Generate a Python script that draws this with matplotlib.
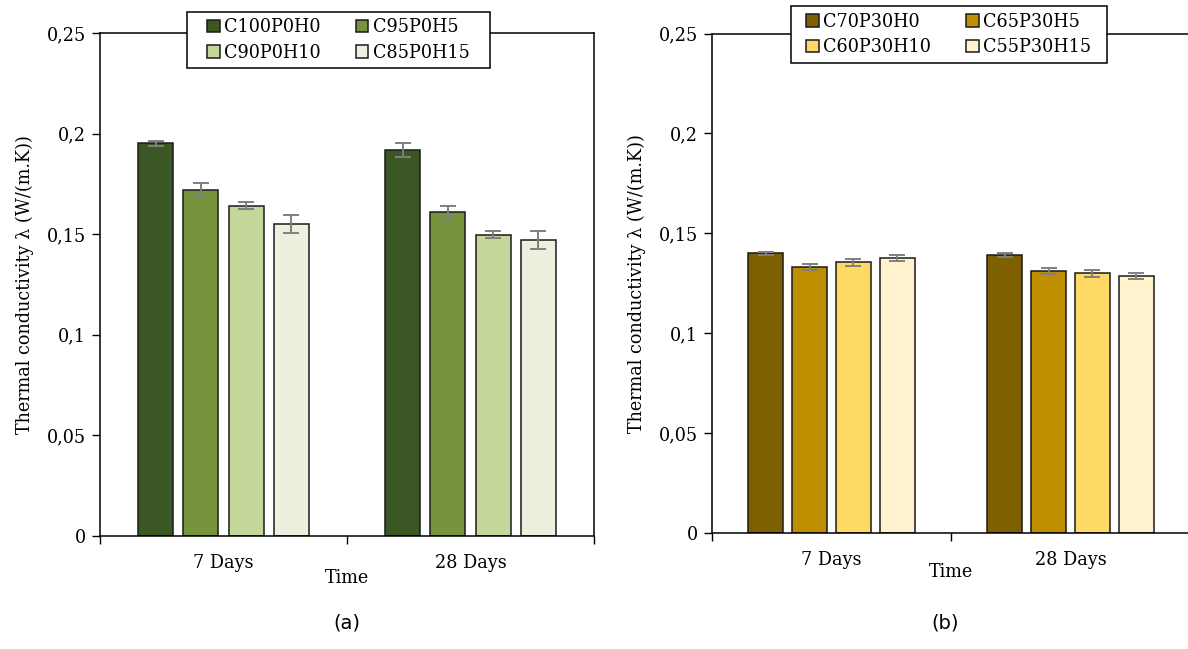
import matplotlib
matplotlib.use("Agg")
import matplotlib.pyplot as plt
from matplotlib.patches import Rectangle
import numpy as np

plt.rcParams['font.family'] = ['DejaVu Serif']

times = ["7 Days", "28 Days"]
y_ticks = [0, 0.05, 0.1, 0.15, 0.2, 0.25]
y_tick_labels = ["0", "0,05", "0,1", "0,15", "0,2", "0,25"]

labels_a = ["C100P0H0", "C95P0H5", "C90P0H10", "C85P0H15"]
values_a = [[0.1952, 0.1920], [0.1720, 0.1609], [0.1642, 0.1497], [0.1551, 0.1472]]
errors_a = [[0.0012, 0.0035], [0.0035, 0.0032], [0.0019, 0.0018], [0.0046, 0.0045]]
colors_a = ["#3A5724", "#77933C", "#C4D79B", "#EBF1DE"]

labels_b = ["C70P30H0", "C65P30H5", "C60P30H10", "C55P30H15"]
values_b = [[0.1400, 0.1391], [0.1331, 0.1311], [0.1355, 0.1300], [0.1378, 0.1285]]
errors_b = [[0.0007, 0.0008], [0.0017, 0.0017], [0.0018, 0.0017], [0.0015, 0.0015]]
colors_b = ["#7F6000", "#BF8F00", "#FFD966", "#FFF2CC"]

W, H = 1188, 649
FS = 12.7
fig = plt.figure(figsize=(W / 100, H / 100), dpi=100)

def make_ax(left, right, top, bottom):
    return fig.add_axes([left / W, 1 - bottom / H, (right - left) / W, (bottom - top) / H])

def draw(ax, labels, values, errors, colors, width, step, show_right, legbox, xlabpad):
    x = np.arange(len(times))
    n = len(labels)
    handles = []
    for i in range(n):
        pos = x + (i - (n - 1) / 2) * step
        b = ax.bar(pos, values[i], width=width, color=colors[i], edgecolor="#1a1a1a",
                   linewidth=1.1, label=labels[i], zorder=2)
        handles.append(b)
        ax.errorbar(pos, values[i], yerr=errors[i], fmt="none", ecolor="#7F7F7F",
                    elinewidth=1.4, capsize=5.5, capthick=1.4, zorder=3)
    ax.set_xlim(-0.5, len(times) - 0.5)
    ax.set_ylim(0, 0.25)
    ax.set_yticks(y_ticks)
    ax.set_yticklabels(y_tick_labels, fontsize=FS)
    ax.set_xticks(x)
    ax.set_xticklabels(times, fontsize=FS)
    ax.set_xticks(np.arange(len(times) + 1) - 0.5, minor=True)
    ax.tick_params(axis="x", which="major", length=0, pad=13)
    ax.tick_params(axis="x", which="minor", length=6, direction="out", width=1)
    ax.tick_params(axis="y", length=6, direction="out", width=1, pad=4)
    for s in ["left", "bottom", "top"]:
        ax.spines[s].set_linewidth(1.1)
    ax.spines["right"].set_visible(show_right)
    ax.spines["right"].set_linewidth(1.1)
    ax.set_ylabel("Thermal conductivity λ (W/(m.K))", fontsize=FS, labelpad=9)
    ax.set_xlabel("Time", fontsize=FS, labelpad=xlabpad)
    # legend box in figure pixels: (left, top, right, bottom)
    l, t, r, btm = legbox
    cx, cy = (l + r) / 2 / W, 1 - (t + btm) / 2 / H
    order = [0, 2, 1, 3]
    leg = ax.legend([handles[k] for k in order], [labels[k] for k in order],
                    loc="center", bbox_to_anchor=(cx, cy), bbox_transform=fig.transFigure,
                    ncol=2, fontsize=FS, frameon=False,
                    handlelength=0.7, handleheight=0.7,
                    handletextpad=0.25, columnspacing=2.0, borderpad=0,
                    labelspacing=0.45, borderaxespad=0)
    leg.set_zorder(5)
    rect = Rectangle((l / W, 1 - btm / H), (r - l) / W, (btm - t) / H,
                     transform=fig.transFigure, facecolor="white", edgecolor="black",
                     linewidth=1.1, clip_on=False, zorder=4)
    ax.add_patch(rect)

ax1 = make_ax(100, 594, 33, 536)
draw(ax1, labels_a, values_a, errors_a, colors_a, 0.1417, 0.1822, True,
     (186.7, 11.7, 490, 68), -2)
ax2 = make_ax(712, 1190, 33.7, 532.7)
draw(ax2, labels_b, values_b, errors_b, colors_b, 0.145, 0.184, False,
     (790.7, 6, 1106.7, 63), -4)

fig.text(347 / W, 1 - 623 / H, "(a)", ha="center", va="center", fontsize=14,
         family=["DejaVu Sans"])
fig.text(945 / W, 1 - 623 / H, "(b)", ha="center", va="center", fontsize=14,
         family=["DejaVu Sans"])

fig.savefig("out.png", dpi=100)
